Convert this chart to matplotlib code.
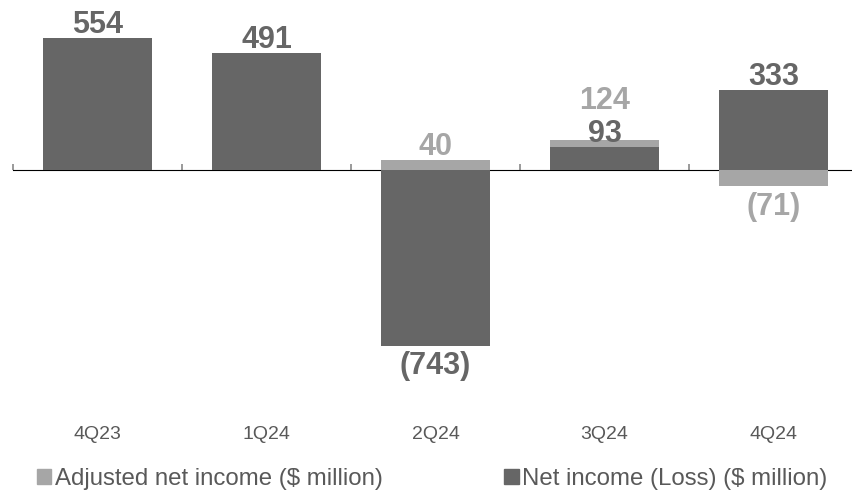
import matplotlib
matplotlib.use('Agg')
import matplotlib.pyplot as plt
from matplotlib.patches import Patch
import numpy as np

plt.rcParams.update({
    'font.family': ['Liberation Sans', 'DejaVu Sans'],
    'axes.unicode_minus': False,
})

quarters = ['4Q23', '1Q24', '2Q24', '3Q24', '4Q24']
adjusted = [554, 491, 40, 124, -71]      # Adjusted net income ($ million)
net_income = [554, 491, -743, 93, 333]   # Net income (Loss) ($ million)

DARK = '#666666'
LIGHT = '#a6a6a6'
TEXT = '#595959'
W, H = 852, 491
GAP = 3.8      # pt between bar end and its label
STEP = 24      # pt, one label line when two labels stack


def fmt(v):
    return f'({abs(v):,})' if v < 0 else f'{v:,}'


def label(ax, xi, anchor, v, color, extra=0):
    up = v >= 0
    off = (GAP + extra) if up else -(GAP + extra)
    ax.annotate(fmt(v), (xi, anchor), xytext=(0, off), textcoords='offset points',
                ha='center', va='baseline' if up else 'top',
                fontsize=22, fontweight='bold', color=color)


fig = plt.figure(figsize=(W / 100, H / 100), dpi=100)
ax = fig.add_axes([13 / W, 71 / H, 845 / W, 420 / H])

x = np.arange(len(quarters))
bw = 0.64
ax.bar(x, adjusted, bw, color=LIGHT, zorder=2)
ax.bar(x, net_income, bw, color=DARK, zorder=3)

for xi, a, n in zip(x, adjusted, net_income):
    label(ax, xi, n, n, DARK)
    if a == n:
        continue
    if a * n > 0 and abs(a) > abs(n):
        # same side and close together: stack the adjusted label above the other
        label(ax, xi, n, a, LIGHT, extra=STEP)
    else:
        label(ax, xi, a, a, LIGHT)

ax.set_xlim(-0.5, len(quarters) - 0.5)
ax.set_ylim(-1055, 714)
ax.set_yticks([])
ax.set_xticks(x, labels=quarters)
ax.tick_params(axis='x', length=0, pad=4, labelsize=14, labelcolor=TEXT)
for s in ax.spines.values():
    s.set_visible(False)

# zero line with category boundary ticks
y0, y1 = ax.get_ylim()
zax = ax.secondary_xaxis((0 - y0) / (y1 - y0))
zax.set_xticks(np.arange(len(quarters) + 1) - 0.5, labels=[])
zax.tick_params(length=4.5, width=1.1, color='#7f7f7f', direction='out')
zax.spines['bottom'].set_color('#7f7f7f')
zax.spines['bottom'].set_linewidth(1.3)

handles = [Patch(color=LIGHT), Patch(color=DARK)]
fig.legend(handles, ['Adjusted net income ($ million)', 'Net income (Loss) ($ million)'],
           ncol=2, loc='center left', bbox_to_anchor=(37 / W, 12 / H),
           frameon=False, fontsize=17.3, labelcolor=TEXT,
           handlelength=0.6, handleheight=0.6, handletextpad=0.15,
           columnspacing=5.05, borderpad=0, borderaxespad=0)

fig.savefig('out.png', dpi=100)
